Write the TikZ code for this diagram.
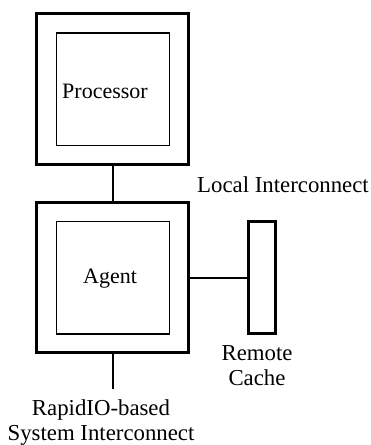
\documentclass[tikz,border=0pt]{standalone}
\usepackage{fontspec}
\setmainfont{Liberation Serif}
\begin{document}
\begin{tikzpicture}[x=1pt,y=-1pt,
  outerbox/.style={draw,line width=2.7pt,minimum width=152.4pt,minimum height=150.5pt,inner sep=0pt},
  innerbox/.style={draw,line width=1.4pt,minimum width=113pt,minimum height=112.5pt,inner sep=0pt},
  boxtext/.style={font=\fontsize{22}{26}\selectfont,inner sep=0pt},
  cachebox/.style={draw,line width=2.6pt,minimum width=26.6pt,minimum height=112.4pt,inner sep=0pt},
  wire/.style={line width=1.8pt},
  lbl/.style={font=\fontsize{22.8}{25}\selectfont,align=center,inner sep=0pt}]
\useasboundingbox (0,0) rectangle (371,445);
\node[outerbox] (pout) at (112.5,89) {};
\node[innerbox] (pin) at (113.2,89.2) {};
\node[boxtext] (ptxt) at (105,91) {Processor};
\node[outerbox] (aout) at (112.5,277.5) {};
\node[innerbox] (ain) at (113.2,277.7) {};
\node[boxtext] (atxt) at (110,279) {Agent};
\node[cachebox] (cache) at (262,277.5) {};
\coordinate (sysend) at (113,389);
\draw[wire] (113,89 |- pout.south) -- (113,89 |- aout.north);
\draw[wire] (aout.east |- 0,278) -- (cache.west |- 0,278);
\draw[wire] (113,89 |- aout.south) -- (sysend);
\node[lbl] (local) at (283,185) {Local Interconnect};
\node[lbl] (rc) at (257,366) {Remote\\Cache};
\node[lbl] (sys) at (101,423) {RapidIO-based\\System Interconnect};
\end{tikzpicture}
\end{document}
